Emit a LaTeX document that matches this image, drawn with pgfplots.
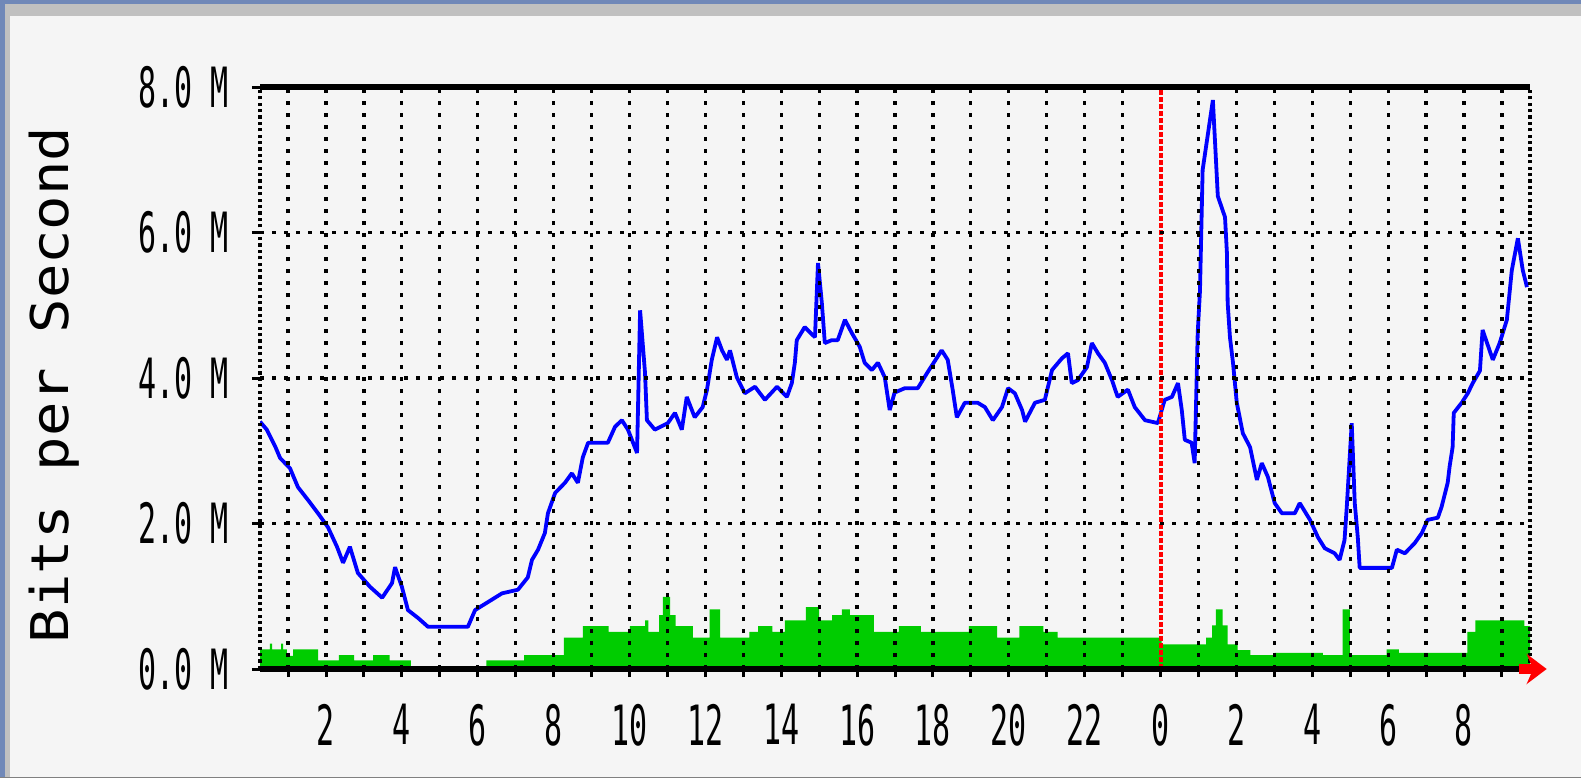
\documentclass[border=0pt]{standalone}
\usepackage{fontspec}
\setmonofont{DejaVu Sans Mono}
\usepackage{pgfplots}
\pgfplotsset{compat=1.18}
\usetikzlibrary{arrows.meta}
\definecolor{bg}{HTML}{F5F5F5}
\definecolor{frameblue}{HTML}{7088B8}
\definecolor{framegray}{HTML}{C0C0C0}
\definecolor{mrtgblue}{HTML}{0000FF}
\definecolor{mrtggreen}{HTML}{00CC00}
\definecolor{mrtgred}{HTML}{FF0000}
\newcommand\xl[1]{\scalebox{1}[1.85]{#1}}
\begin{document}
\begin{tikzpicture}[x=1pt,y=1pt]
\fill[frameblue] (0,0) rectangle (790.5,389);
\fill[framegray] (2.5,0) rectangle (790.5,387);
\fill[bg] (5,0.5) rectangle (790.5,381);
\fill[gray] (0,0) rectangle (790.5,0.6);
\node[rotate=90, font=\fontsize{26}{26}\selectfont\ttfamily, inner sep=0pt] at (27,196.5) {\scalebox{1.1}[1]{Bits per Second}};
\begin{axis}[
  at={(130pt,54.5pt)}, anchor=south west, scale only axis,
  width=635pt, height=291pt,
  xmin=0.26, xmax=33.74, ymin=0, ymax=8,
  axis on top,
  separate axis lines,
  every outer x axis line/.append style={line width=3pt, black},
  every outer y axis line/.append style={line width=1.6pt, black, dash pattern=on 1.6pt off 1.6pt},
  xtick={2,4,...,22,26,28,30,32},
  minor xtick={1,3,...,33},
  xticklabels={\xl{2},\xl{4},\xl{6},\xl{8},\xl{10},\xl{12},\xl{14},\xl{16},\xl{18},\xl{20},\xl{22},\xl{2},\xl{4},\xl{6},\xl{8}},
  extra x ticks={24},
  extra x tick labels={\xl{0}},
  extra x tick style={grid=none},
  xmajorgrids, xminorgrids, ymajorgrids,
  major grid style={black, line width=1.6pt, dash pattern=on 2.2pt off 3.8pt},
  minor grid style={black, line width=1.6pt, dash pattern=on 2.2pt off 3.8pt},
  ytick={0,2,6,8},
  yticklabels={\xl{0.0 M},\xl{2.0 M},\xl{6.0 M},\xl{8.0 M}},
  extra y ticks={4},
  extra y tick labels={\xl{4.0 M}},
  extra y tick style={grid style={black, line width=1.6pt, dash pattern=on 3pt off 6.5pt}},
  tick pos=left,
  tick align=outside,
  major tick length=4pt, minor tick length=4pt,
  tick style={black, line width=1.5pt},
  xticklabel style={font=\fontsize{15}{15}\selectfont\ttfamily, yshift=-10pt},
  yticklabel style={font=\fontsize{15}{15}\selectfont\ttfamily, xshift=-8pt},
]
\addplot[const plot, fill=mrtggreen, draw=none] coordinates {
(0.26,0.27) (0.52,0.35) (0.58,0.27) (0.82,0.35) (0.87,0.27) (0.97,0.18) (1.13,0.27)
(1.79,0.12) (2.34,0.19) (2.74,0.12) (3.24,0.19) (3.68,0.12) (4.24,0) (6.23,0.12)
(7.22,0.19) (8.27,0.43) (8.77,0.59) (9.45,0.51) (10.01,0.59) (10.41,0.67) (10.50,0.51)
(10.78,0.74) (10.88,0.99) (11.07,0.74) (11.22,0.59) (11.67,0.43) (12.11,0.82) (12.39,0.43)
(13.16,0.51) (13.39,0.59) (13.77,0.51) (14.10,0.67) (14.65,0.85) (15.00,0.67) (15.34,0.74)
(15.60,0.82) (15.81,0.74) (16.44,0.51) (17.10,0.59) (17.68,0.51) (18.95,0.59) (19.69,0.43)
(20.28,0.59) (20.91,0.51) (21.29,0.43) (24.03,0.34) (25.20,0.43) (25.36,0.60) (25.46,0.82)
(25.64,0.60) (25.77,0.34) (26.03,0.26) (26.37,0.19) (27.01,0.22) (28.28,0.19) (28.80,0.82)
(28.99,0.19) (29.96,0.27) (30.28,0.22) (32.09,0.51) (32.30,0.67) (33.59,0.59) (33.74,0.59)
} \closedcycle;
\addplot[mrtgblue, line width=1.9pt, line join=bevel] coordinates {
(0.26,3.40) (0.44,3.29) (0.66,3.06) (0.79,2.90) (1.05,2.76) (1.26,2.50) (1.53,2.32) (1.79,2.14)
(2.05,1.95) (2.29,1.68) (2.45,1.46) (2.63,1.68) (2.84,1.32) (3.16,1.13) (3.48,0.98)
(3.74,1.18) (3.82,1.40) (4.00,1.13) (4.16,0.81) (4.43,0.70) (4.69,0.58) (5.74,0.58)
(5.93,0.81) (6.27,0.92) (6.64,1.04) (7.06,1.09) (7.32,1.26) (7.43,1.50) (7.59,1.64)
(7.77,1.87) (7.85,2.14) (8.04,2.42) (8.30,2.56) (8.48,2.69) (8.64,2.56) (8.77,2.91)
(8.91,3.11) (9.43,3.11) (9.62,3.33) (9.80,3.42) (9.96,3.29) (10.20,2.97) (10.28,4.93)
(10.41,4.07) (10.46,3.42) (10.67,3.29) (11.01,3.38) (11.20,3.52) (11.38,3.29) (11.51,3.74)
(11.72,3.46) (11.93,3.60) (12.04,3.83) (12.17,4.25) (12.31,4.56) (12.44,4.38) (12.57,4.25)
(12.65,4.38) (12.83,4.01) (13.04,3.79) (13.31,3.88) (13.57,3.70) (13.89,3.88) (14.15,3.74)
(14.28,3.93) (14.36,4.21) (14.41,4.52) (14.62,4.70) (14.89,4.56) (14.97,5.58) (15.07,5.04)
(15.15,4.48) (15.33,4.52) (15.49,4.52) (15.68,4.80) (15.86,4.62) (16.07,4.43) (16.20,4.21)
(16.39,4.11) (16.55,4.21) (16.73,4.01) (16.86,3.56) (16.99,3.80) (17.26,3.86) (17.60,3.86)
(17.86,4.08) (18.23,4.38) (18.39,4.25) (18.52,3.84) (18.63,3.46) (18.84,3.66) (19.18,3.66)
(19.37,3.60) (19.58,3.42) (19.82,3.60) (19.98,3.86) (20.16,3.79) (20.35,3.56) (20.43,3.40)
(20.69,3.66) (20.95,3.70) (21.14,4.11) (21.40,4.27) (21.56,4.34) (21.66,3.93) (21.82,3.97)
(22.06,4.15) (22.19,4.48) (22.35,4.34) (22.53,4.21) (22.72,3.97) (22.87,3.74) (23.14,3.84)
(23.32,3.60) (23.59,3.42) (23.93,3.38) (24.11,3.70) (24.30,3.74) (24.46,3.93) (24.56,3.56)
(24.64,3.15) (24.82,3.11) (24.90,2.83) (24.98,4.62) (25.04,5.20) (25.11,6.86) (25.38,7.82)
(25.51,6.50) (25.70,6.21) (25.75,5.72) (25.77,5.03) (25.83,4.56) (25.91,4.21) (26.01,3.66)
(26.17,3.24) (26.36,3.05) (26.54,2.60) (26.67,2.83) (26.83,2.64) (27.01,2.28) (27.20,2.14)
(27.54,2.14) (27.67,2.28) (27.94,2.05) (28.15,1.81) (28.33,1.66) (28.59,1.59) (28.72,1.50)
(28.85,1.77) (28.91,2.23) (29.04,3.38) (29.12,2.28) (29.20,1.81) (29.25,1.39) (30.10,1.39)
(30.23,1.64) (30.44,1.59) (30.70,1.73) (30.89,1.87) (31.04,2.05) (31.31,2.08) (31.41,2.23)
(31.57,2.56) (31.62,2.78) (31.70,3.05) (31.73,3.52) (31.94,3.66) (32.10,3.79) (32.23,3.93)
(32.42,4.10) (32.49,4.66) (32.76,4.25) (32.94,4.48) (33.13,4.80) (33.26,5.48) (33.42,5.92)
(33.55,5.48) (33.66,5.25)
};
\addplot[mrtgred, line width=2pt, dash pattern=on 2.5pt off 1pt] coordinates {(24,0) (24,8)};
\coordinate (arrA) at (axis cs:33.45,0);
\coordinate (arrB) at (axis cs:34.18,0);
\end{axis}
\draw[mrtgred, line width=5pt, -{Stealth[length=10pt,width=15pt]}] (arrA) -- (arrB);
\end{tikzpicture}
\end{document}
